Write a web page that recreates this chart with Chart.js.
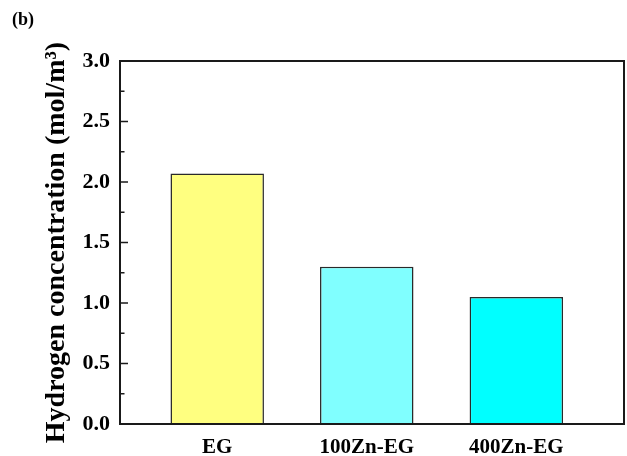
<!DOCTYPE html>
<html>
<head>
<meta charset="utf-8">
<script src="https://cdn.jsdelivr.net/npm/chart.js@4.4.1/dist/chart.umd.min.js"></script>
<style>
  html, body { margin: 0; padding: 0; background: #fff; }
  #wrap { position: relative; width: 627px; height: 456px; }
  #panel { position: absolute; left: 12px; top: 10px; font: bold 18px/18px "Liberation Serif", "Times New Roman", serif; color: #000; }
</style>
</head>
<body>
<div id="wrap">
  <canvas id="c" width="627" height="456"></canvas>
  <div id="panel">(b)</div>
</div>
<script>
// ---- data ----
const categories = ["EG", "100Zn-EG", "400Zn-EG"];
const categoryPositions = [1, 2, 3];
const hydrogenValues = [2.07, 1.30, 1.05];
const barColors = ["#FFFF80", "#80FFFF", "#00FFFF"];
const yMajorTicks = [0.0, 0.5, 1.0, 1.5, 2.0, 2.5, 3.0];
const yMinorTicks = [0.25, 0.75, 1.25, 1.75, 2.25, 2.75];
const yTitle = "Hydrogen concentration (mol/m\u00B3)";

const FONT = '"Liberation Serif", "Times New Roman", serif';

const framePlugin = {
  id: 'frame',
  afterDatasetsDraw(chart) {
    const ctx = chart.ctx;
    const a = chart.chartArea;
    const y = chart.scales.y;
    ctx.save();
    ctx.strokeStyle = '#1a1a1a';
    ctx.lineWidth = 1.5;
    ctx.beginPath();
    yMajorTicks.forEach(v => {
      const p = y.getPixelForValue(v);
      ctx.moveTo(a.left, p);
      ctx.lineTo(a.left + 8, p);
    });
    yMinorTicks.forEach(v => {
      const p = y.getPixelForValue(v);
      ctx.moveTo(a.left, p);
      ctx.lineTo(a.left + 4.5, p);
    });
    ctx.stroke();
    ctx.lineWidth = 2;
    ctx.strokeStyle = '#1a1a1a';
    ctx.strokeRect(a.left, a.top, a.right - a.left, a.bottom - a.top);
    ctx.restore();
  }
};

new Chart(document.getElementById('c'), {
  type: 'bar',
  data: {
    datasets: [{
      data: categoryPositions.map((x, i) => ({ x: x, y: hydrogenValues[i] })),
      backgroundColor: barColors,
      borderColor: '#2a2a2a',
      borderWidth: 1.5,
      categoryPercentage: 1.0,
      barPercentage: 0.625
    }]
  },
  options: {
    responsive: false,
    animation: false,
    layout: { padding: { top: 61, right: 3, left: 0, bottom: 0 } },
    plugins: { legend: { display: false }, tooltip: { enabled: false } },
    scales: {
      x: {
        type: 'linear',
        offset: false,
        min: 0.35,
        max: 3.72,
        afterBuildTicks: s => { s.ticks = categoryPositions.map(v => ({ value: v })); },
        afterFit: s => { s.height = 32; },
        grid: { display: false, drawTicks: false },
        border: { display: false },
        ticks: {
          autoSkip: false,
          maxRotation: 0,
          padding: 10.5,
          color: '#000',
          font: { family: FONT, size: 21, weight: 'bold' },
          callback: v => categories[categoryPositions.indexOf(v)]
        }
      },
      y: {
        min: 0,
        max: 3,
        afterBuildTicks: s => { s.ticks = yMajorTicks.map(v => ({ value: v })); },
        afterFit: s => { s.width = 120; },
        grid: { display: false, drawTicks: false },
        border: { display: false },
        ticks: {
          padding: 10,
          color: '#000',
          font: { family: FONT, size: 22, weight: 'bold' },
          callback: v => Number(v).toFixed(1)
        },
        title: {
          display: true,
          text: yTitle,
          color: '#000',
          font: { family: FONT, size: 28, weight: 'bold' },
          padding: { top: 40, bottom: 0 }
        }
      }
    }
  },
  plugins: [framePlugin]
});
</script>
</body>
</html>
